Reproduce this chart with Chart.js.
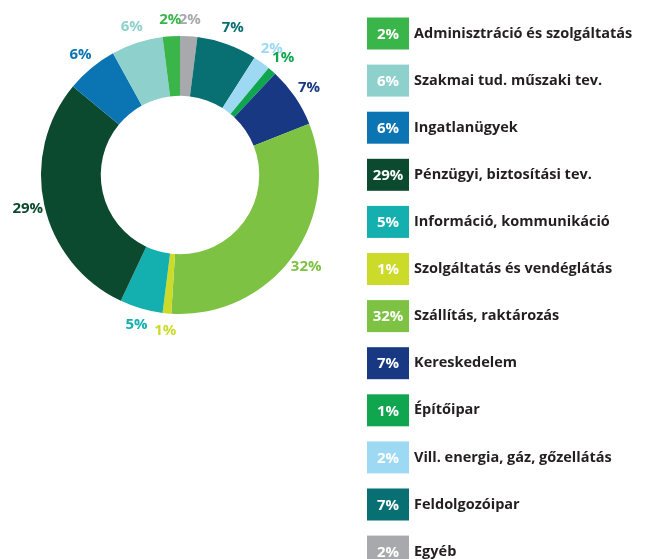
<!DOCTYPE html>
<html>
<head>
<meta charset="utf-8">
<script src="https://cdn.jsdelivr.net/npm/chart.js@4.4.1/dist/chart.umd.min.js"></script>
<style>
  html, body { margin: 0; padding: 0; background: #ffffff; }
  #wrap { width: 645px; height: 559px; position: relative; }
</style>
</head>
<body>
<div id="wrap"><canvas id="c" width="645" height="559"></canvas></div>
<script>
// Legend order (top to bottom)
const categories = [
  "Adminisztráció és szolgáltatás",
  "Szakmai tud. műszaki tev.",
  "Ingatlanügyek",
  "Pénzügyi, biztosítási tev.",
  "Információ, kommunikáció",
  "Szolgáltatás és vendéglátás",
  "Szállítás, raktározás",
  "Kereskedelem",
  "Építőipar",
  "Vill. energia, gáz, gőzellátás",
  "Feldolgozóipar",
  "Egyéb"
];
const values = [2, 6, 6, 29, 5, 1, 32, 7, 1, 2, 7, 2];
const colors = [
  "#3AB54A", "#8ED1CC", "#0B75B3", "#0C4A2F", "#14AFAF", "#CCDB2A",
  "#7DC242", "#183883", "#10A650", "#9DD9F3", "#086F73", "#A7A9AC"
];

// The ring is drawn clockwise from the top in reverse legend order
const ringLabels = categories.slice().reverse();
const ringValues = values.slice().reverse();
const ringColors = colors.slice().reverse();

const FONT = "'Open Sans', 'Noto Sans', sans-serif";

const outerLabels = {
  id: 'outerLabels',
  afterDatasetsDraw(chart) {
    const ctx = chart.ctx;
    const meta = chart.getDatasetMeta(0);
    ctx.save();
    ctx.font = "bold 15px " + FONT;
    ctx.textAlign = 'center';
    ctx.textBaseline = 'middle';
    meta.data.forEach((arc, i) => {
      const p = arc.getProps(['x', 'y', 'startAngle', 'endAngle', 'outerRadius'], true);
      const mid = (p.startAngle + p.endAngle) / 2;
      const r = p.outerRadius + 17;
      ctx.fillStyle = ringColors[i];
      ctx.fillText(ringValues[i] + '%', p.x + Math.cos(mid) * r, p.y + Math.sin(mid) * r);
    });
    ctx.restore();
  }
};

const boxLegend = {
  id: 'boxLegend',
  afterDraw(chart) {
    const ctx = chart.ctx;
    const x0 = 367, boxW = 42, boxH = 32, y0 = 33.5, step = 47.1;
    ctx.save();
    ctx.textBaseline = 'middle';
    categories.forEach((name, i) => {
      const cy = y0 + i * step;
      ctx.fillStyle = colors[i];
      ctx.fillRect(x0, cy - boxH / 2, boxW, boxH);
      ctx.fillStyle = '#ffffff';
      ctx.font = "bold 15px " + FONT;
      ctx.textAlign = 'center';
      ctx.fillText(values[i] + '%', x0 + boxW / 2, cy + 1);
      ctx.fillStyle = '#231F20';
      ctx.textAlign = 'left';
      ctx.font = "bold 14.5px " + FONT;
      ctx.fillText(name, x0 + boxW + 5, cy);
    });
    ctx.restore();
  }
};

new Chart(document.getElementById('c'), {
  type: 'doughnut',
  data: {
    labels: ringLabels,
    datasets: [{
      data: ringValues,
      backgroundColor: ringColors,
      borderWidth: 0
    }]
  },
  options: {
    responsive: false,
    animation: false,
    cutout: '57%',
    rotation: 0,
    layout: { padding: { left: 40, top: 36, right: 325, bottom: 245 } },
    plugins: {
      legend: { display: false },
      tooltip: { enabled: false }
    }
  },
  plugins: [outerLabels, boxLegend]
});
</script>
</body>
</html>
